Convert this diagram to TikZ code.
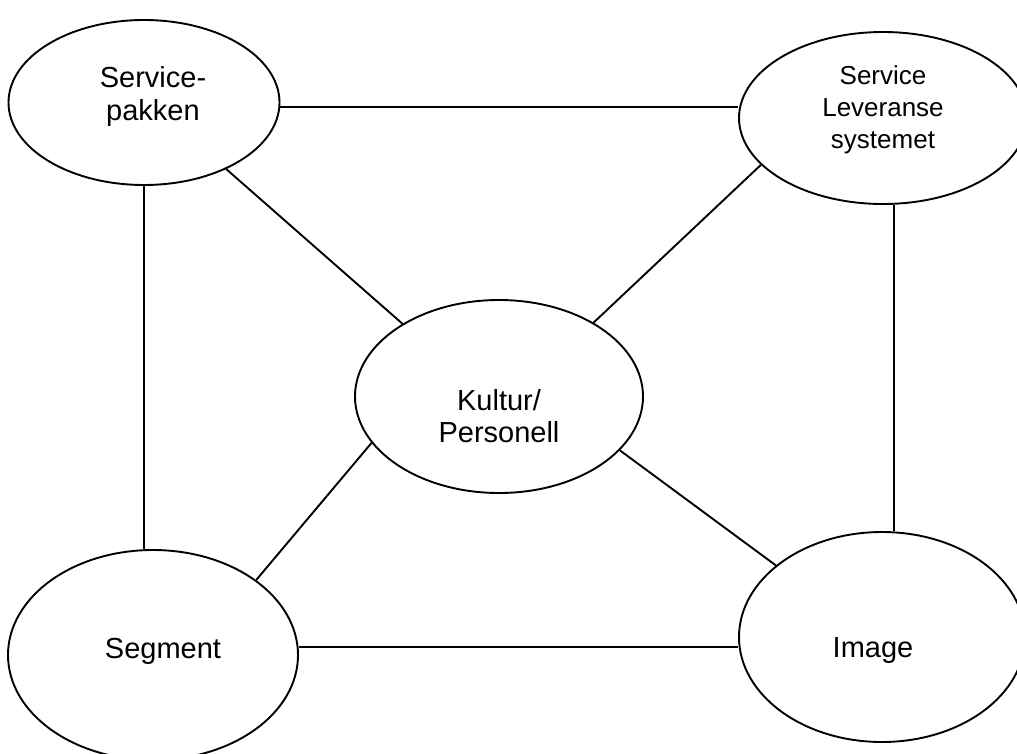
\documentclass[tikz,border=0pt]{standalone}
\usepackage{fontspec}
\setmainfont{Liberation Sans}
\usetikzlibrary{shapes.geometric}
\begin{document}
\begin{tikzpicture}[x=1pt,y=-1pt,
  blob/.style={draw, ellipse, line width=1.9pt, inner sep=0pt},
  lbl/.style={align=center, inner sep=0pt, font=\fontsize{29}{32.5}\selectfont},
  small/.style={lbl, font=\fontsize{26}{32}\selectfont},
  link/.style={line width=1.9pt}]
\useasboundingbox (0,0) rectangle (1017,753);
\clip (0,0) rectangle (1017,753);

% the five ellipses
\node[blob, minimum width=271pt, minimum height=165pt] (sp) at (144,102.5) {};
\node[blob, minimum width=288pt, minimum height=172pt] (sl) at (883,118) {};
\node[blob, minimum width=288pt, minimum height=193pt] (ku) at (499,396.5) {};
\node[blob, minimum width=290pt, minimum height=210pt] (se) at (153,655) {};
\node[blob, minimum width=286pt, minimum height=210pt] (im) at (882,637) {};

% their labels
\node[lbl]   (tsp) at (153,96.5) {Service-\\pakken};
\node[small] (tsl) at (883,110) {Service\\Leveranse\\systemet};
\node[lbl]   (tku) at (499,416) {Kultur/\\Personell};
\node[lbl]   (tse) at (163,651.5) {Segment};
\node[lbl]   (tim) at (873,651) {Image};

% connectors
\draw[link] (sp.-2.3) -- (sp.-2.3 -| sl.west);
\draw[link] (sp.-39.7) -- (ku.143.8);
\draw[link] (ku.38.3) -- (sl.201.2);
\draw[link] (ku.200.6) -- (se.36.4);
\draw[link] (ku.-24.5) -- (im.146.7);
\draw[link] (sp.south) -- (sp.south |- se.north);
\draw[link] (sl.-83.4) -- (sl.-83.4 |- im.north);
\draw[link] (se.3.4) -- (se.3.4 -| im.west);
\end{tikzpicture}
\end{document}
